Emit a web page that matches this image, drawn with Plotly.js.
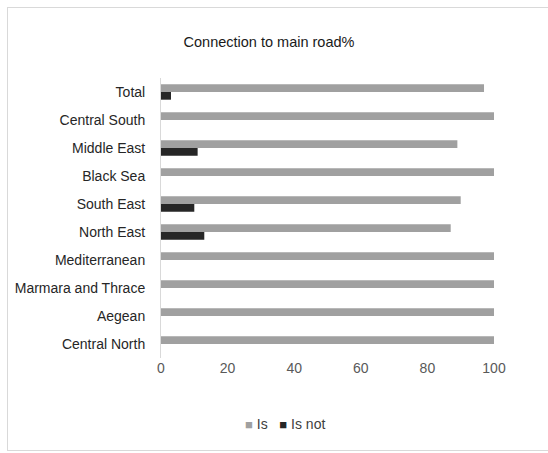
<!DOCTYPE html>
<html>
<head>
<meta charset="utf-8">
<script src="https://cdn.plot.ly/plotly-3.0.1.min.js"></script>
<style>
html,body{margin:0;padding:0;background:#fff;}
#wrap{position:relative;width:548px;height:453px;overflow:hidden;}
#frame{position:absolute;left:7px;top:7px;width:560px;height:444px;border:1px solid #d9d9d9;box-sizing:border-box;}
#chart{position:absolute;left:0;top:0;width:548px;height:453px;}
</style>
</head>
<body>
<div id="wrap">
<div id="frame"></div>
<div id="chart"></div>
</div>
<script>
const categories = ["Total","Central South","Middle East","Black Sea","South East","North East","Mediterranean","Marmara and Thrace","Aegean","Central North"];
const isValues = [97,100,89,100,90,87,100,100,100,100];
const isNotValues = [3,0,11,0,10,13,0,0,0,0];
const seriesNames = ["Is","Is not"];
const seriesColors = ["#a0a0a0","#262626"];
const titleText = "Connection to main road%";

const FONT = "Liberation Sans, Arial, sans-serif";

const data = [
  {type:"bar", orientation:"h", name:seriesNames[0], y:categories, x:isValues,
   marker:{color:seriesColors[0]}, hoverinfo:"x+y"},
  {type:"bar", orientation:"h", name:seriesNames[1], y:categories, x:isNotValues,
   marker:{color:seriesColors[1]}, hoverinfo:"x+y"}
];

const legendText = seriesNames.map((n,i) =>
  '<span style="color:' + seriesColors[i] + ';font-size:13px">■</span> ' + n).join('&nbsp;&nbsp;&nbsp;');

const layout = {
  width:548, height:453,
  paper_bgcolor:"rgba(0,0,0,0)", plot_bgcolor:"rgba(0,0,0,0)",
  margin:{l:161, r:54, t:78, b:95, pad:0},
  font:{family:FONT, size:14, color:"#404040"},
  title:{text:titleText, x:269/548, xanchor:"center", xref:"container", y:1-42/453, yanchor:"middle", yref:"container",
         font:{family:FONT, size:14.5, color:"#1a1a1a"}},
  barmode:"group", bargap:0.45, bargroupgap:0,
  xaxis:{range:[0,100], tickvals:[0,20,40,60,80,100], showgrid:false, zeroline:false,
         showline:false, ticks:"", tickfont:{family:FONT, size:14, color:"#595959"}, fixedrange:true},
  yaxis:{type:"category", autorange:"reversed", showgrid:false, zeroline:false,
         showline:true, linecolor:"#d9d9d9", linewidth:1, ticks:"", ticklabelstandoff:12,
         tickfont:{family:FONT, size:14, color:"#262626"}, fixedrange:true},
  showlegend:false,
  annotations:[{text:legendText, xref:"paper", yref:"paper", x:(285-161)/(494-161), y:-(424-358)/280,
                xanchor:"center", yanchor:"middle", showarrow:false,
                font:{family:FONT, size:14, color:"#404040"}}]
};

Plotly.newPlot("chart", data, layout, {displayModeBar:false, staticPlot:true});
</script>
</body>
</html>
